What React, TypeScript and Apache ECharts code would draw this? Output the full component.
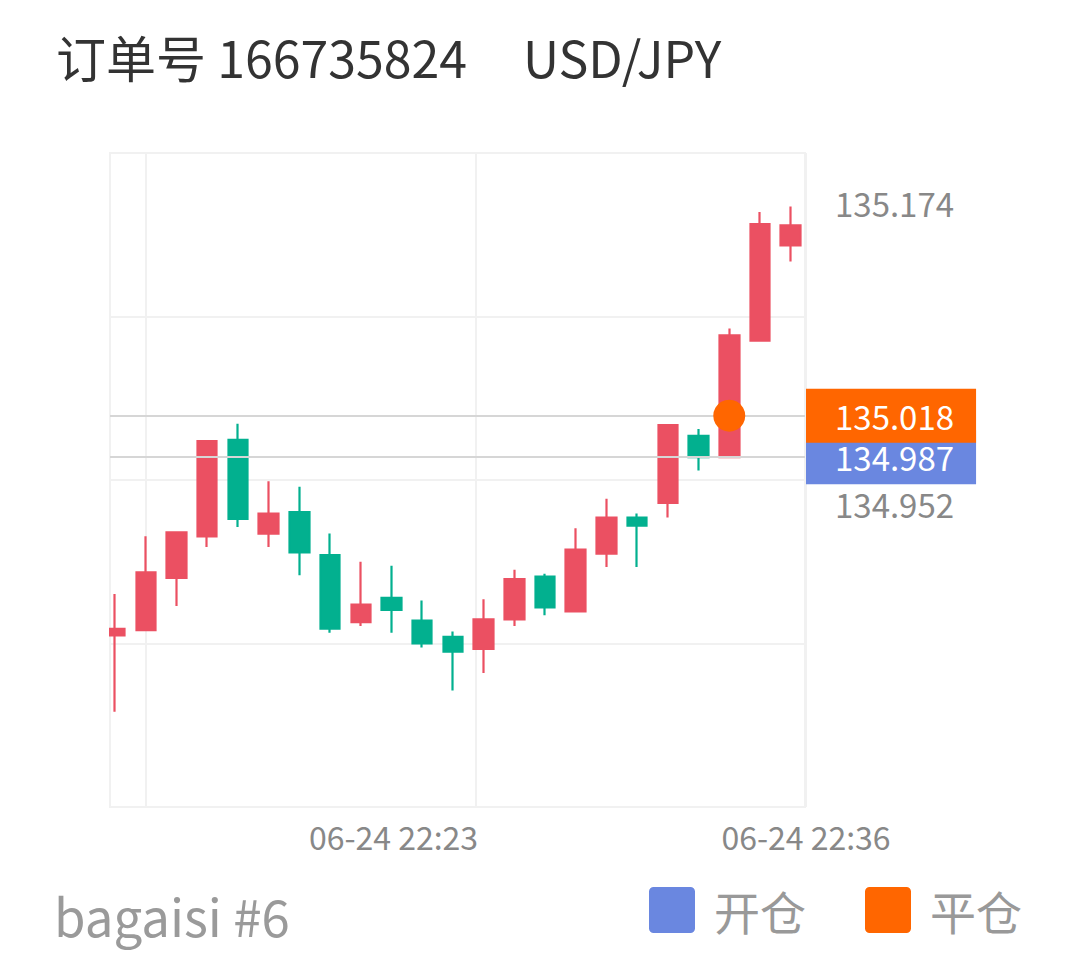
import React, { useEffect, useRef } from "react";
import * as echarts from "echarts";

// ---- data ----
const tradeDate = "2022-06-24";
const candleTimes = [
  "22:14", "22:15", "22:16", "22:17", "22:18", "22:19", "22:20", "22:21",
  "22:22", "22:23", "22:24", "22:25", "22:26", "22:27", "22:28", "22:29",
  "22:30", "22:31", "22:32", "22:33", "22:34", "22:35", "22:36",
];
const opens = [
  134.854, 134.858, 134.897, 134.928, 135.0, 134.93, 134.946, 134.914,
  134.864, 134.882, 134.865, 134.853, 134.844, 134.866, 134.898, 134.872,
  134.915, 134.942, 134.953, 135.003, 134.987, 135.074, 135.145,
];
const closes = [
  134.859, 134.901, 134.931, 134.999, 134.941, 134.945, 134.916, 134.859,
  134.877, 134.873, 134.848, 134.842, 134.866, 134.896, 134.875, 134.918,
  134.942, 134.936, 135.011, 134.987, 135.078, 135.161, 135.16,
];
const lows = [
  134.797, 134.858, 134.876, 134.92, 134.935, 134.92, 134.899, 134.856,
  134.861, 134.856, 134.845, 134.813, 134.826, 134.861, 134.869, 134.872,
  134.905, 134.905, 134.942, 134.977, 134.987, 135.074, 135.133,
];
const highs = [
  134.885, 134.928, 134.931, 134.999, 135.012, 134.969, 134.965, 134.93,
  134.909, 134.906, 134.88, 134.857, 134.881, 134.903, 134.9, 134.934,
  134.956, 134.945, 135.011, 135.008, 135.083, 135.17, 135.174,
];
const openPrice = 134.987;
const closePrice = 135.018;
const closeTime = "22:34";
const priceLabelValues = [135.174, 134.952];
const xTickLabels = ["06-24 22:10", "06-24 22:23", "06-24 22:36"];
const legendNames = ["开仓", "平仓"];
const orderNo = "166735824";
const symbolName = "USD/JPY";
const account = "bagaisi #6";
const xMinTime = "22:13:50";
const xMaxTime = "22:36:28";
const yMin = 134.726;
const yMax = 135.214;

const ts = (t: string) =>
  new Date(`${tradeDate}T${t.length === 5 ? t + ":00" : t}`).getTime();

const FONT = "'Noto Sans CJK SC', 'Noto Sans', sans-serif";
const RED = "#EB5062";
const GREEN = "#02B08F";
const BLUE = "#6A87E0";
const ORANGE = "#FF6600";
const GRIDC = "#f1f1f1";
const PRICELINE = "#d6d6d6";
const LEGEND_ICON =
  "path://M2,0H18A2,2,0,0,1,20,2V18A2,2,0,0,1,18,20H2A2,2,0,0,1,0,18V2A2,2,0,0,1,2,0Z";

export default function App() {
  const ref = useRef<HTMLDivElement>(null);
  useEffect(() => {
    if (!ref.current) return;
    const chart = echarts.init(ref.current, undefined, { renderer: "svg" });
    const candles = candleTimes.map((t, i) => [
      ts(t),
      opens[i],
      closes[i],
      lows[i],
      highs[i],
    ]);
    const boxLabel = (bg: string, color: string, v: number) => ({
      show: true,
      position: "end",
      distance: 1,
      formatter: () => v.toFixed(3),
      fontSize: 33,
      lineHeight: 32,
      fontFamily: FONT,
      color,
      backgroundColor: bg,
      padding: [11, 22, 11, 29],
    });
    const axisTxt = { fontSize: 32, lineHeight: 32, color: "#888", fontFamily: FONT };
    const option: any = {
      animation: false,
      backgroundColor: "#fff",
      title: [
        {
          text: `订单号 ${orderNo}     ${symbolName}`,
          left: 56,
          top: 31,
          padding: 0,
          textStyle: {
            fontSize: 50,
            lineHeight: 50,
            fontWeight: "normal",
            color: "#333",
            fontFamily: FONT,
          },
        },
        {
          text: account,
          left: 54,
          top: 889,
          padding: 0,
          textStyle: {
            fontSize: 51,
            lineHeight: 51,
            fontWeight: "normal",
            color: "#9a9a9a",
            fontFamily: FONT,
          },
        },
      ],
      legend: {
        data: legendNames,
        right: 61,
        top: 887,
        padding: 0,
        icon: LEGEND_ICON,
        itemWidth: 46,
        itemHeight: 46,
        itemGap: 59,
        selectedMode: false,
        itemStyle: { borderWidth: 0 },
        textStyle: {
          fontSize: 46,
          color: "#999",
          fontFamily: FONT,
          padding: [0, 0, 0, 14],
        },
      },
      graphic: [
        {
          type: "rect",
          silent: true,
          z: 10,
          shape: { x: 90, y: 150, width: 19, height: 660 },
          style: { fill: "#fff" },
        },
      ],
      grid: [
        {
          left: 110,
          right: 278,
          top: 153,
          bottom: 161,
          show: true,
          borderColor: GRIDC,
          borderWidth: 2,
        },
        { left: 146, right: 277, top: 153, bottom: 161 },
      ],
      xAxis: [
        {
          type: "time",
          gridIndex: 0,
          min: ts(xMinTime),
          max: ts(xMaxTime),
          axisLine: { show: false },
          axisTick: { show: false },
          axisLabel: { show: false },
          splitLine: { show: false },
        },
        {
          type: "category",
          gridIndex: 1,
          boundaryGap: false,
          data: xTickLabels,
          axisLine: { show: false },
          axisTick: { show: false },
          splitLine: { show: true, interval: 0, lineStyle: { color: GRIDC, width: 2 } },
          axisLabel: {
            interval: 0,
            margin: 13,
            ...axisTxt,
            formatter: (v: string, i: number) =>
              i === 0 ? "" : i === 1 ? `{r|${v}}` : `{c|${v}}`,
            rich: {
              r: { ...axisTxt, padding: [0, 165, 0, 0] },
              c: { ...axisTxt },
            },
          },
        },
      ],
      yAxis: [
        {
          type: "value",
          gridIndex: 0,
          min: yMin,
          max: yMax,
          axisLine: { show: false },
          axisTick: { show: false },
          axisLabel: { show: false },
          splitLine: { show: false },
        },
        {
          type: "value",
          gridIndex: 0,
          min: 0,
          max: 4,
          interval: 1,
          axisLine: { show: false },
          axisTick: { show: false },
          axisLabel: { show: false },
          splitLine: { show: true, lineStyle: { color: GRIDC, width: 2 } },
        },
        { type: "value", gridIndex: 1, show: false },
      ],
      series: [
        {
          type: "candlestick",
          name: "K",
          xAxisIndex: 0,
          yAxisIndex: 0,
          data: candles,
          encode: { x: 0, y: [1, 2, 3, 4] },
          barWidth: 20,
          itemStyle: {
            color: RED,
            color0: GREEN,
            borderColor: RED,
            borderColor0: GREEN,
            borderWidth: 2.2,
          },
          markLine: {
            silent: true,
            precision: 3,
            symbol: ["none", "none"],
            data: priceLabelValues.map((v, i) => ({
              yAxis: v,
              lineStyle: { color: "rgba(0,0,0,0)", width: 0 },
              label: {
                ...boxLabel("transparent", "#888", v),
                offset: i === 0 ? [0, -4] : [0, 0],
              },
            })),
          },
        },
        {
          type: "line",
          name: legendNames[0],
          xAxisIndex: 0,
          yAxisIndex: 0,
          data: [],
          color: BLUE,
          itemStyle: { color: BLUE },
          markLine: {
            silent: true,
            precision: 3,
            symbol: ["none", "none"],
            lineStyle: { color: PRICELINE, width: 2, type: "solid" },
            label: boxLabel(BLUE, "#fff", openPrice),
            data: [{ yAxis: openPrice }],
          },
        },
        {
          type: "line",
          name: legendNames[1],
          xAxisIndex: 0,
          yAxisIndex: 0,
          data: [],
          color: ORANGE,
          itemStyle: { color: ORANGE },
          markLine: {
            silent: true,
            precision: 3,
            symbol: ["none", "none"],
            lineStyle: { color: PRICELINE, width: 2, type: "solid" },
            label: boxLabel(ORANGE, "#fff", closePrice),
            data: [{ yAxis: closePrice }],
          },
        },
        {
          type: "scatter",
          name: legendNames[1],
          xAxisIndex: 0,
          yAxisIndex: 0,
          z: 5,
          symbolSize: 32,
          itemStyle: { color: ORANGE, opacity: 1 },
          data: [[ts(closeTime), closePrice]],
        },
      ],
    };
    chart.setOption(option);
    return () => chart.dispose();
  }, []);
  return (
    <div
      ref={ref}
      style={{ position: "fixed", left: 0, top: 0, width: 1083, height: 968 }}
    />
  );
}
